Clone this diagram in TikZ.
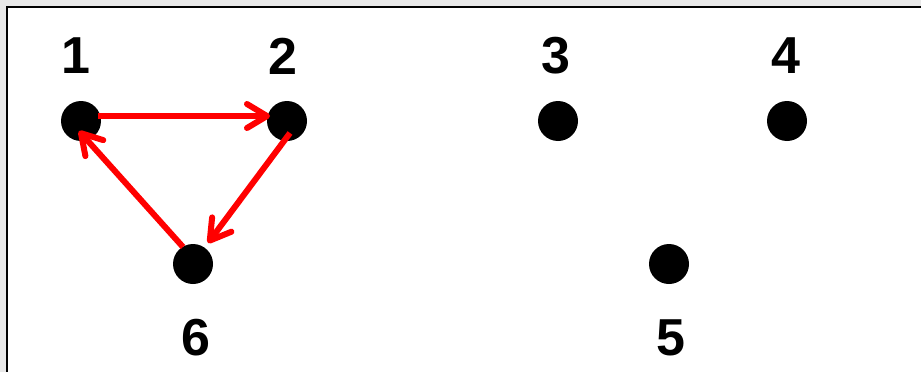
\documentclass[tikz,border=0pt]{standalone}
\usepackage{fontspec}
\setmainfont{Liberation Sans}
\usetikzlibrary{arrows.meta,calc}
\tikzset{
  dot/.style={circle,fill=black,minimum size=40pt,inner sep=0pt},
  lbl/.style={font=\fontsize{52}{52}\selectfont\bfseries,inner sep=0pt},
  arr/.style={red,line width=6pt,-{Straight Barb[length=20pt,width=24pt,round]}}
}
\begin{document}
\begin{tikzpicture}[x=1pt,y=-1pt]
\useasboundingbox (0,0) rectangle (921,372);
\fill[gray!18] (0,0) rectangle (921,372);
\fill[white] (7,7) rectangle (921,372);
\draw[black,line width=2.5pt] (7,373) -- (7,7) -- (922,7);
\node[dot] (n1) at (81,121) {};
\node[dot] (n2) at (287,121) {};
\node[dot] (n3) at (558,121) {};
\node[dot] (n4) at (787,121) {};
\node[dot] (n6) at (193,264) {};
\node[dot] (n5) at (669,264) {};
\node[lbl] (l1) at (76,56) {1};
\node[lbl] (l2) at (283,56) {2};
\node[lbl] (l3) at (556,56) {3};
\node[lbl] (l4) at (786,56) {4};
\node[lbl] (l6) at (196,338) {6};
\node[lbl] (l5) at (671,338) {5};
\draw[arr] ($(n1.center)+(17,-5)$) -- ($(n2.center)+(-17,-5)$);
\draw[arr] ($(n2.center)+(3,12)$) -- ($(n6.center)+(15,-21)$);
\draw[arr] ($(n6.center)+(-10,-17)$) -- ($(n1.center)+(-2,10)$);
\end{tikzpicture}
\end{document}
